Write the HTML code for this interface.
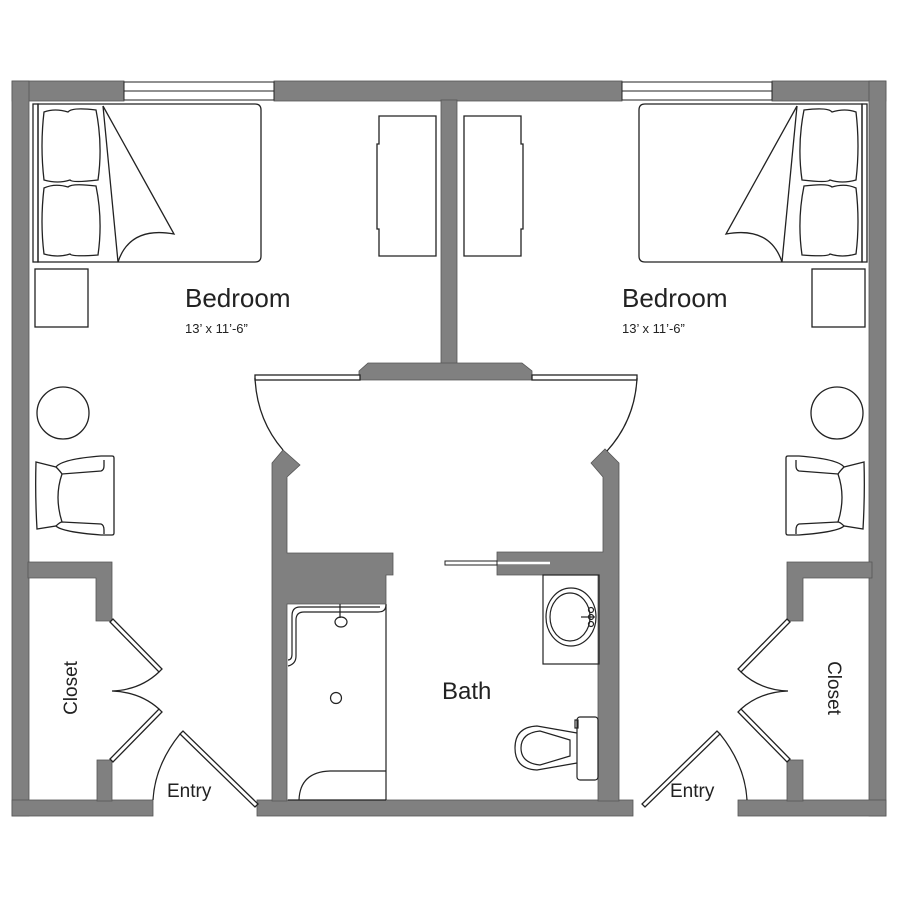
<!DOCTYPE html>
<html><head><meta charset="utf-8"><style>
html,body{margin:0;padding:0;background:#fff;}
svg{display:block}
text{font-family:"Liberation Sans",sans-serif;fill:#222}
</style></head><body>
<svg width="900" height="900" viewBox="0 0 900 900" xmlns="http://www.w3.org/2000/svg">
<defs>
<g id="half" fill="none" stroke="#222" stroke-width="1.3">
  <rect x="33" y="104" width="5" height="158" />
  <path d="M38 104 H255 Q261 104 261 110 V256 Q261 262 255 262 H38 Z"/>
  <path d="M44 112 Q55 108 68 112 Q72 107 96 110 Q103 145 98 180 Q72 183 70 180 Q58 184 44 180 Q40 146 44 112 Z"/>
  <path d="M44 188 Q55 183 68 187 Q72 183 96 186 Q103 220 98 255 Q72 257 70 254 Q58 258 44 254 Q40 222 44 188 Z"/>
  <line x1="103" y1="106" x2="118" y2="262"/>
  <path d="M103 106 L174 234 Q130 226 118 262"/>
  <path d="M379 116 H436 V256 H379 V229 H377 V144 H379 Z"/>
  <rect x="35" y="269" width="53" height="58"/>
  <circle cx="63" cy="413" r="26"/>
  <path d="M36 462 L56 467 Q62 459 101 456 H112 Q114 456 114 458 V533 Q114 535 112 535 H101 Q62 532 56 526 L37 529 Q35 495 36 462 Z"/>
  <path d="M56 467 Q60 471 62 474 L101 471 Q104 470 104 466 V460"/>
  <path d="M56 526 Q60 522 62 522 L101 524 Q104 525 104 530 V534"/>
  <path d="M62 474 Q54 497 62 522"/>
  <path d="M110 622 L113 619 L162 669 L159 672 Z" fill="#fff"/>
  <path d="M110 759 L113 762 L162 712 L159 709 Z" fill="#fff"/>
  <path d="M159 672 Q140 690 112 691 Q140 692 159 709"/>
  <path d="M180 734 L183 731 L258 804 L255 807 Z" fill="#fff"/>
  <path d="M180 734 Q155 765 153 800"/>
</g>
</defs>

<g fill="#808080" stroke="#555" stroke-width="0.8">
  <rect x="12" y="81" width="112" height="20"/>
  <rect x="274" y="81" width="348" height="20"/>
  <rect x="772" y="81" width="114" height="20"/>
  <rect x="12" y="81" width="17" height="735"/>
  <rect x="869" y="81" width="17" height="735"/>
  <rect x="441" y="100" width="16" height="265"/>
  <path d="M368 363 H522 L532 371 V380 H359 V371 Z"/>
  <rect x="12" y="800" width="141" height="16"/>
  <rect x="257" y="800" width="376" height="16"/>
  <rect x="738" y="800" width="148" height="16"/>
  <path d="M28 562 H112 V621 H96 V578 H28 Z"/>
  <rect x="97" y="760" width="15" height="41"/>
  <path d="M872 562 H787 V621 H803 V578 H872 Z"/>
  <rect x="787" y="760" width="16" height="41"/>
  <path d="M272 463 L283 450 L300 465 L287 477 V553 H393 V575 H386 V604 H287 V801 H272 Z"/>
  <path d="M591 463 L605 449 L619 463 V801 H598 V575 H497 V552 H603 V477 Z"/>
</g>
<line x1="497" y1="563" x2="550" y2="563" stroke="#fff" stroke-width="2.5"/>
<rect x="445" y="561" width="52" height="4" fill="#fff" stroke="#222" stroke-width="1"/>

<g fill="#fff" stroke="#222" stroke-width="1">
  <rect x="124" y="82" width="150" height="18"/>
  <line x1="124" y1="91" x2="274" y2="91"/>
  <rect x="622" y="82" width="150" height="18"/>
  <line x1="622" y1="91" x2="772" y2="91"/>
</g>

<use href="#half"/>
<use href="#half" transform="translate(900,0) scale(-1,1)"/>

<!-- bedroom doors -->
<g fill="none" stroke="#222" stroke-width="1.3">
  <rect x="255" y="375" width="105" height="5" fill="#fff"/>
  <path d="M255 378 Q257 420 283 450"/>
  <rect x="532" y="375" width="105" height="5" fill="#fff"/>
  <path d="M637 378 Q635 420 607 451"/>
</g>

<g fill="none" stroke="#222" stroke-width="1.2">
  <line x1="386" y1="604" x2="386" y2="800"/>
  <line x1="288" y1="800" x2="386" y2="800"/>
  <path d="M386 771 H330 Q300 772 299 800"/>
  <path d="M288 666 Q296 664 296 656 V620 Q296 612 304 612 H378 Q386 612 386 605"/>
  <path d="M288 660 Q292 660 292 654 V616 Q292 607 300 607 H380"/>
  <line x1="340" y1="604" x2="340" y2="618"/>
  <ellipse cx="341" cy="622" rx="6" ry="5"/>
  <circle cx="336" cy="698" r="5.5"/>
  <rect x="543" y="575" width="56" height="89"/>
  <ellipse cx="571" cy="617" rx="25" ry="29"/>
  <ellipse cx="570" cy="617" rx="20" ry="24"/>
  <line x1="581" y1="617" x2="595" y2="617"/>
  <circle cx="591" cy="610" r="2.5"/><circle cx="591" cy="617" r="2.5"/><circle cx="591" cy="624" r="2.5"/>
  <rect x="577" y="717" width="21" height="63" rx="3"/>
  <rect x="575" y="720" width="3" height="8"/>
  <path d="M577 733 L537 726 Q515 727 515 748 Q515 769 537 770 L577 763"/>
  <path d="M570 740 L540 731 Q521 733 521 748 Q521 763 540 765 L570 756 Z"/>
</g>

<text x="185" y="307" font-size="26">Bedroom</text>
<text x="185" y="333" font-size="13">13’ x 11’-6”</text>
<text x="622" y="307" font-size="26">Bedroom</text>
<text x="622" y="333" font-size="13">13’ x 11’-6”</text>
<text x="442" y="699" font-size="24">Bath</text>
<text x="167" y="797" font-size="19">Entry</text>
<text x="670" y="797" font-size="19">Entry</text>
<text transform="translate(77,688) rotate(-90)" font-size="19" text-anchor="middle" font-family="Liberation Sans Narrow, Liberation Sans, sans-serif">Closet</text>
<text transform="translate(828,688) rotate(90)" font-size="19" text-anchor="middle" font-family="Liberation Sans Narrow, Liberation Sans, sans-serif">Closet</text>
</svg>
</body></html>
